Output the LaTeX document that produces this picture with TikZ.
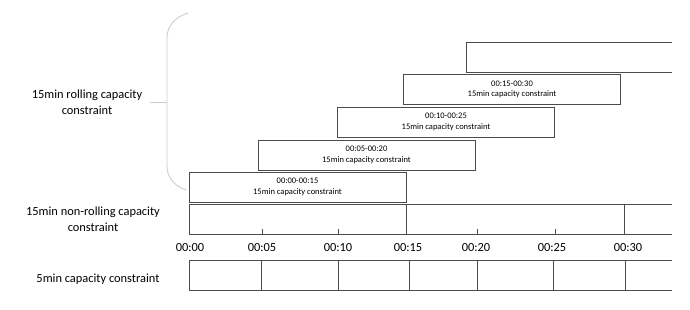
\documentclass[tikz,border=0pt]{standalone}
\usepackage{fontspec}
\setmainfont{Carlito}
\begin{document}
\begin{tikzpicture}[x=1pt,y=-1pt,
  box/.style={draw=black!70,line width=0.8pt,inner sep=0pt,align=center,font=\fontsize{8.5}{10.5}\selectfont},
  grid/.style={draw=black!70,line width=0.8pt},
  lbl/.style={align=center,font=\fontsize{12.4}{15.5}\selectfont},
  tlbl/.style={font=\fontsize{12.4}{14}\selectfont}]
\useasboundingbox (0,0) rectangle (690,310);
% brace
\draw[black!20,line width=0.9pt] (188,13) .. controls (175,17) and (167,26) .. (167,38) -- (167,166) .. controls (167,177) and (174,186) .. (186,190);
\draw[black!20,line width=0.9pt] (167,102) -- (150,102);
% left labels
\node[lbl] (lroll) at (87,102) {15min rolling capacity\\constraint};
\node[lbl] (lnon) at (93,219) {15min non-rolling capacity\\constraint};
\node[lbl] (lfive) at (98,279) {5min capacity constraint};
% rolling boxes
\node[box,minimum width=217,minimum height=30] (r0) at (297.5,187) {00:00-00:15\\15min capacity constraint};
\node[box,minimum width=217,minimum height=30] (r1) at (366.5,155) {00:05-00:20\\15min capacity constraint};
\node[box,minimum width=217,minimum height=30] (r2) at (446,122) {00:10-00:25\\15min capacity constraint};
\node[box,minimum width=217,minimum height=30] (r3) at (512,89.5) {00:15-00:30\\15min capacity constraint};
\draw[grid] (672,42) -- (466,42) -- (466,72) -- (672,72);
% non-rolling row
\draw[grid] (672,204) -- (189,204) -- (189,234) -- (672,234);
\foreach \x in {406,624} \draw[grid] (\x,204) -- (\x,234);
\foreach \x in {262,338,477,555} \draw[grid] (\x,229) -- (\x,234);
% time labels
\foreach \x/\t in {190/00:00,262/00:05,338/00:10,408/00:15,476/00:20,552/00:25,628/00:30}
  \node[tlbl] at (\x,248) {\t};
% 5min row
\draw[grid] (672,260) -- (189,260) -- (189,290) -- (672,290);
\foreach \x in {261,338,409,477,553,625} \draw[grid] (\x,260) -- (\x,290);
\end{tikzpicture}
\end{document}
